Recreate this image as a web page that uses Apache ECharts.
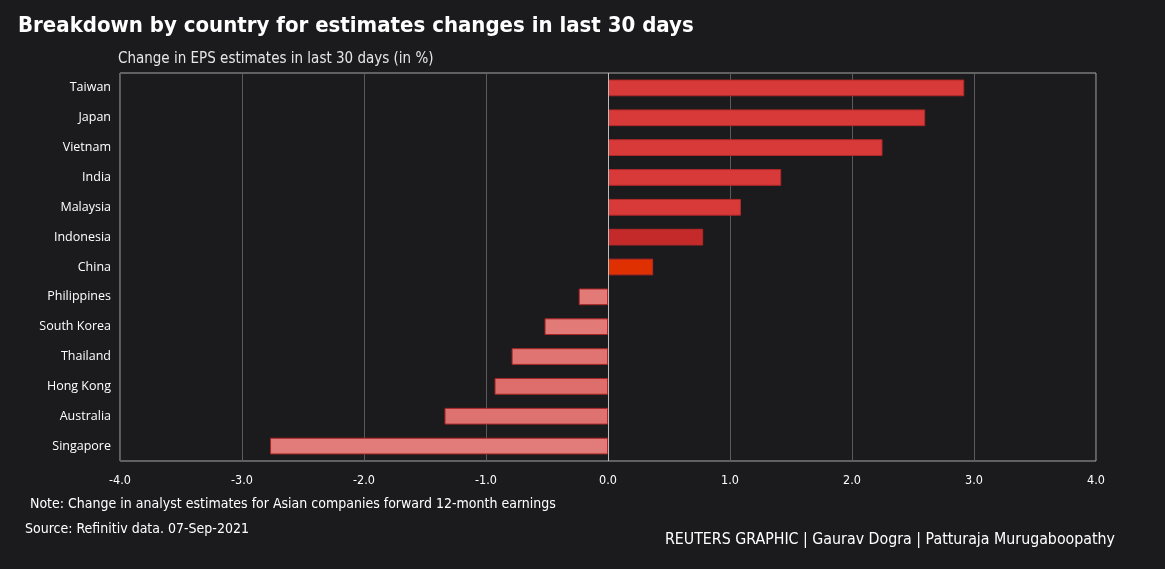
<!DOCTYPE html>
<html>
<head>
<meta charset="utf-8">
<script src="https://cdn.jsdelivr.net/npm/echarts@6/dist/echarts.min.js"></script>
<style>
  html, body { margin: 0; padding: 0; background: #1b1b1d; }
  #main { width: 1165px; height: 569px; }
</style>
</head>
<body>
<div id="main"></div>
<script>
// data (top to bottom)
const countries = ['Taiwan', 'Japan', 'Vietnam', 'India', 'Malaysia', 'Indonesia', 'China',
  'Philippines', 'South Korea', 'Thailand', 'Hong Kong', 'Australia', 'Singapore'];
const changes = [2.92, 2.60, 2.25, 1.42, 1.09, 0.78, 0.37,
  -0.24, -0.52, -0.79, -0.93, -1.34, -2.77];
const xTicks = [-4, -3, -2, -1, 0, 1, 2, 3, 4];

// bar fill per row
const fills = ['#d83a3a', '#d83a3a', '#d83a3a', '#d83a3a', '#d83a3a', '#c52a2a', '#de3000',
  '#e27a78', '#e27a78', '#e07472', '#dd6e6c', '#de7270', '#e27c7a'];

const myChart = echarts.init(document.getElementById('main'));

const font = '"DejaVu Sans Condensed", "Open Sans", sans-serif';

myChart.setOption({
  backgroundColor: '#1b1b1d',
  animation: false,
  title: [
    {
      text: 'Breakdown by country for estimates changes in last 30 days',
      left: 13, top: 10,
      textStyle: { color: '#ffffff', fontSize: 22, fontWeight: 'bold', fontFamily: font }
    },
    {
      text: 'Change in EPS estimates in last 30 days (in %)',
      left: 113, top: 47,
      textStyle: { color: '#e6e6e6', fontSize: 15, fontWeight: 'normal', fontFamily: font }
    },
    {
      text: 'Note: Change in analyst estimates for Asian companies forward 12-month earnings',
      left: 25, top: 492,
      textStyle: { color: '#ffffff', fontSize: 14, fontWeight: 'normal', fontFamily: font }
    },
    {
      text: 'Source: Refinitiv data. 07-Sep-2021',
      left: 20, top: 517,
      textStyle: { color: '#ffffff', fontSize: 14, fontWeight: 'normal', fontFamily: font }
    },
    {
      text: 'REUTERS GRAPHIC | Gaurav Dogra | Patturaja Murugaboopathy',
      right: 45, top: 527,
      textStyle: { color: '#ffffff', fontSize: 15.8, fontWeight: 'normal', fontFamily: font }
    }
  ],
  grid: {
    left: 120, right: 69, top: 73, bottom: 108,
    show: true, borderColor: '#a8a8a8', borderWidth: 1
  },
  xAxis: {
    type: 'value',
    min: xTicks[0],
    max: xTicks[xTicks.length - 1],
    interval: 1,
    axisLine: { show: false },
    axisTick: { show: false },
    axisLabel: {
      color: '#ffffff', fontSize: 12.5, fontFamily: font, margin: 13,
      formatter: v => v.toFixed(1)
    },
    splitLine: { lineStyle: { color: '#5a5a5c', width: 1 } }
  },
  yAxis: {
    type: 'category',
    data: countries,
    inverse: true,
    axisLine: { show: false },
    axisTick: { show: false },
    axisLabel: { color: '#ffffff', fontSize: 12.5, fontFamily: '"Open Sans", sans-serif', margin: 9 },
    splitLine: { show: false }
  },
  series: [
    {
      type: 'bar',
      barCategoryGap: '44%',
      data: changes.map((v, i) => ({
        value: v,
        itemStyle: {
          color: fills[i],
          borderColor: v >= 0 ? '#b32828' : '#a82626',
          borderWidth: 1
        }
      })),
      markLine: {
        silent: true,
        symbol: 'none',
        label: { show: false },
        lineStyle: { color: '#bdbdbd', type: 'solid', width: 1 },
        data: [{ xAxis: 0 }]
      }
    }
  ]
});
</script>
</body>
</html>
